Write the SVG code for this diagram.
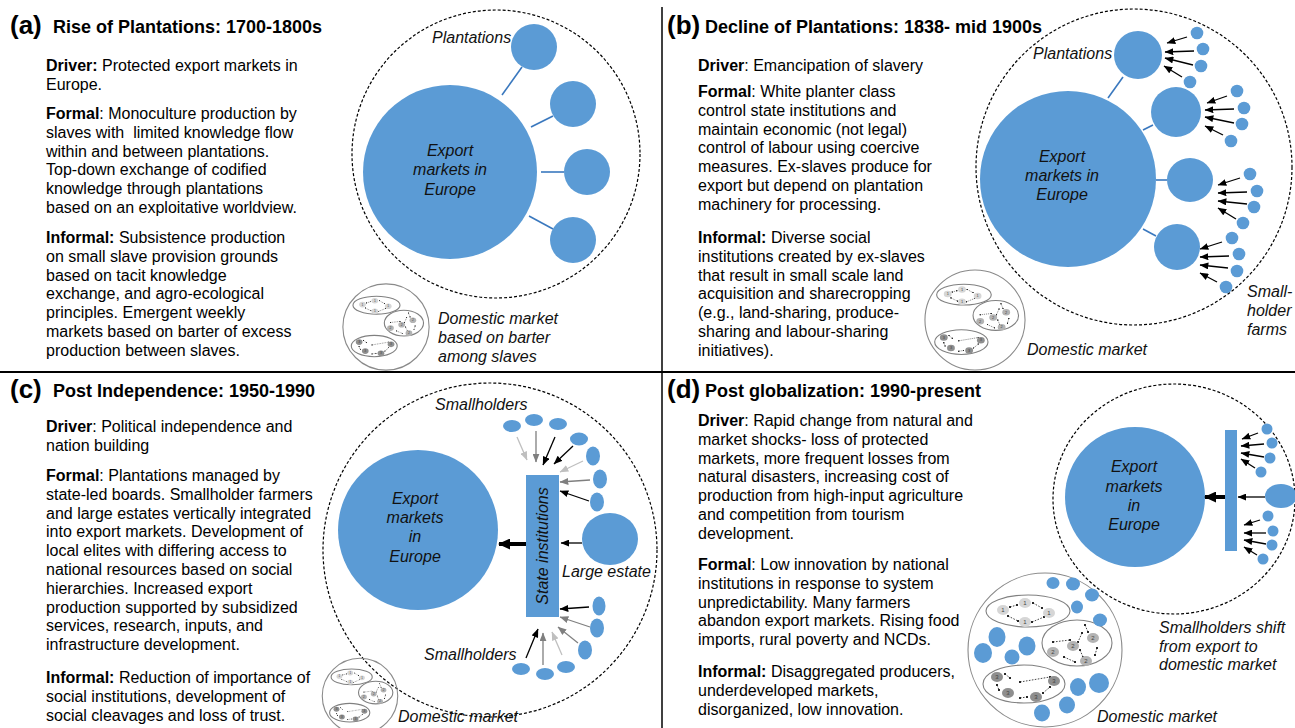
<svg xmlns="http://www.w3.org/2000/svg" xmlns:xlink="http://www.w3.org/1999/xlink" width="1295" height="728" viewBox="0 0 1295 728">
<style>
.body{font-family:"Liberation Sans",Arial,sans-serif;font-size:16px;fill:#000}
.b{font-weight:bold}
.lab{font-family:"Liberation Sans",Arial,sans-serif;font-size:16px;font-style:italic;fill:#111}
.ttl{font-family:"Liberation Sans",Arial,sans-serif;font-size:18px;font-weight:bold;fill:#000}
.pl{font-family:"Liberation Sans",Arial,sans-serif;font-size:26px;font-weight:bold;fill:#000}
.blue{fill:#5B9BD5}
.dash{fill:none;stroke:#000;stroke-width:1.2;stroke-dasharray:3 2}
.lnk{stroke:#3A78BE;stroke-width:1.6}
.ak{stroke:#000;stroke-width:1.3;marker-end:url(#ah)}
.ag{stroke:#7f7f7f;stroke-width:1.3;marker-end:url(#ahg)}
.al{stroke:#bfbfbf;stroke-width:1.3;marker-end:url(#ahl)}
.thick{stroke:#000;stroke-width:4;marker-end:url(#ahb)}
.cl{fill:none;stroke:#808080;stroke-width:1.1;vector-effect:non-scaling-stroke}
.cc{fill:none;stroke:#8a8a8a;stroke-width:1.1;vector-effect:non-scaling-stroke}
.n1{fill:#d6d6d6}.n2{fill:#b3b3b3}.n3{fill:#8f8f8f}
.nt{font-family:"Liberation Sans",Arial,sans-serif;font-size:6px;fill:#444;text-anchor:middle}
.tc{stroke:#333;stroke-width:0.9;stroke-dasharray:1.6 1.4;marker-start:url(#dot);marker-end:url(#dot)}
.div{stroke:#000}
</style>
<defs>
<marker id="ah" viewBox="0 0 10 8" refX="9.5" refY="4" markerWidth="9" markerHeight="7" orient="auto" markerUnits="userSpaceOnUse"><path d="M0,0 L10,4 L0,8 z" fill="#000"/></marker>
<marker id="ahg" viewBox="0 0 10 8" refX="9.5" refY="4" markerWidth="9" markerHeight="7" orient="auto" markerUnits="userSpaceOnUse"><path d="M0,0 L10,4 L0,8 z" fill="#7f7f7f"/></marker>
<marker id="ahl" viewBox="0 0 10 8" refX="9.5" refY="4" markerWidth="9" markerHeight="7" orient="auto" markerUnits="userSpaceOnUse"><path d="M0,0 L10,4 L0,8 z" fill="#bfbfbf"/></marker>
<marker id="ahb" viewBox="0 0 12 11" refX="11" refY="5.5" markerWidth="12" markerHeight="11" orient="auto" markerUnits="userSpaceOnUse"><path d="M0,0 L12,5.5 L0,11 z" fill="#000"/></marker>
<marker id="dot" viewBox="0 0 4 4" refX="2" refY="2" markerWidth="2.4" markerHeight="2.4" markerUnits="userSpaceOnUse"><circle cx="2" cy="2" r="2" fill="#222"/></marker>
<g id="cluster">
<circle r="77" fill="#fff" class="cc"/>
<ellipse cx="-17" cy="-39" rx="42" ry="16" class="cl"/>
<ellipse cx="32" cy="-7" rx="35" ry="23" class="cl"/>
<ellipse cx="-21" cy="34" rx="41" ry="19" class="cl"/>
<line class="tc" x1="-35" y1="-43" x2="-28" y2="-45"/>
<line class="tc" x1="-12" y1="-47" x2="-3" y2="-42"/>
<line class="tc" x1="-37" y1="-34" x2="-27" y2="-29"/>
<line class="tc" x1="-13" y1="-28" x2="-1" y2="-33"/>
<line class="tc" x1="8" y1="-8" x2="25" y2="-10"/>
<line class="tc" x1="40" y1="-25" x2="43" y2="-18"/>
<line class="tc" x1="37" y1="-17" x2="33" y2="-8"/>
<line class="tc" x1="35" y1="0" x2="38" y2="7"/>
<line class="tc" x1="52" y1="-2" x2="50" y2="5"/>
<line class="tc" x1="19" y1="7" x2="30" y2="12"/>
<line class="tc" x1="-40" y1="24" x2="-35" y2="28"/>
<line class="tc" x1="-25" y1="32" x2="5" y2="27"/>
<line class="tc" x1="-48" y1="35" x2="-46" y2="40"/>
<line class="tc" x1="-25" y1="48" x2="-18" y2="47"/>
<line class="tc" x1="-2" y1="43" x2="5" y2="37"/>
<ellipse cx="-42" cy="-40" rx="6" ry="5" class="n1"/><text class="nt" x="-42" y="-38">1</text>
<ellipse cx="-20" cy="-47" rx="6" ry="5" class="n1"/><text class="nt" x="-20" y="-45">1</text>
<ellipse cx="4" cy="-37" rx="6" ry="5" class="n1"/><text class="nt" x="4" y="-35">1</text>
<ellipse cx="-20" cy="-28" rx="6" ry="5" class="n1"/><text class="nt" x="-20" y="-26">1</text>
<ellipse cx="28" cy="-4" rx="6" ry="5" class="n2"/><text class="nt" x="28" y="-2">2</text>
<ellipse cx="48" cy="-12" rx="6" ry="5" class="n2"/><text class="nt" x="48" y="-10">2</text>
<ellipse cx="8" cy="2" rx="6" ry="5" class="n2"/><text class="nt" x="8" y="4">2</text>
<ellipse cx="41" cy="11" rx="6" ry="5" class="n2"/><text class="nt" x="41" y="13">2</text>
<ellipse cx="-48" cy="27" rx="6" ry="5" class="n3"/><text class="nt" x="-48" y="29">3</text>
<ellipse cx="9" cy="31" rx="6" ry="5" class="n3"/><text class="nt" x="9" y="33">3</text>
<ellipse cx="-37" cy="43" rx="6" ry="5" class="n3"/><text class="nt" x="-37" y="45">3</text>
<ellipse cx="-9" cy="47" rx="6" ry="5" class="n3"/><text class="nt" x="-9" y="49">3</text>
</g>
</defs>
<rect width="1295" height="728" fill="#fff"/>

<g id="dividers">
<line class="div" x1="0" y1="372" x2="1295" y2="372" stroke-width="2"/>
<line class="div" x1="662" y1="7" x2="662" y2="728" stroke-width="1.5"/>
</g>

<!-- Panel (a) -->
<g id="panel-a-text">
<text class="pl" x="10" y="34">(a)</text>
<text class="ttl" x="53" y="33">Rise of Plantations: 1700-1800s</text>
<text class="body">
<tspan x="46" y="71"><tspan class="b">Driver:</tspan> Protected export markets in</tspan>
<tspan x="46" y="89.8">Europe.</tspan>
<tspan x="46" y="119"><tspan class="b">Formal</tspan>: Monoculture production by</tspan>
<tspan x="46" y="137.8">slaves with&#160; limited knowledge flow</tspan>
<tspan x="46" y="156.6">within and between plantations.</tspan>
<tspan x="46" y="175.4">Top-down exchange of codified</tspan>
<tspan x="46" y="194.2">knowledge through plantations</tspan>
<tspan x="46" y="213">based on an exploitative worldview.</tspan>
<tspan x="46" y="243"><tspan class="b">Informal:</tspan> Subsistence production</tspan>
<tspan x="46" y="261.8">on small slave provision grounds</tspan>
<tspan x="46" y="280.6">based on tacit knowledge</tspan>
<tspan x="46" y="299.4">exchange, and agro-ecological</tspan>
<tspan x="46" y="318.2">principles. Emergent weekly</tspan>
<tspan x="46" y="337">markets based on barter of excess</tspan>
<tspan x="46" y="355.8">production between slaves.</tspan>
</text>
</g>
<g id="a-boundary"><circle class="dash" cx="496" cy="154" r="144"/></g>
<g id="a-export"><circle class="blue" cx="450" cy="172" r="87"/>
<text class="lab" text-anchor="middle"><tspan x="450" y="156">Export</tspan><tspan x="450" y="175">markets in</tspan><tspan x="450" y="195">Europe</tspan></text></g>
<g id="a-plantation-1"><circle class="blue" cx="534" cy="47" r="23"/></g>
<g id="a-plantation-2"><circle class="blue" cx="573" cy="104" r="23"/></g>
<g id="a-plantation-3"><circle class="blue" cx="587" cy="172" r="23"/></g>
<g id="a-plantation-4"><circle class="blue" cx="573" cy="240" r="23"/></g>
<g id="a-plantations-label"><text class="lab" x="432" y="43">Plantations</text></g>
<g id="a-domestic"><use xlink:href="#cluster" href="#cluster" transform="translate(386,327) scale(0.56)"/>
<text class="lab"><tspan x="438" y="324">Domestic market</tspan><tspan x="438" y="343">based on barter</tspan><tspan x="438" y="362">among slaves</tspan></text></g>

<!-- Panel (b) -->
<g id="panel-b-text">
<text class="pl" x="667" y="34">(b)</text>
<text class="ttl" x="705" y="33">Decline of Plantations: 1838- mid 1900s</text>
<text class="body">
<tspan x="698" y="71"><tspan class="b">Driver</tspan>: Emancipation of slavery</tspan>
<tspan x="698" y="97"><tspan class="b">Formal</tspan>: White planter class</tspan>
<tspan x="698" y="115.8">control state institutions and</tspan>
<tspan x="698" y="134.6">maintain economic (not legal)</tspan>
<tspan x="698" y="153.4">control of labour using coercive</tspan>
<tspan x="698" y="172.2">measures. Ex-slaves produce for</tspan>
<tspan x="698" y="191">export but depend on plantation</tspan>
<tspan x="698" y="209.8">machinery for processing.</tspan>
<tspan x="698" y="243"><tspan class="b">Informal:</tspan> Diverse social</tspan>
<tspan x="698" y="261.8">institutions created by ex-slaves</tspan>
<tspan x="698" y="280.6">that result in small scale land</tspan>
<tspan x="698" y="299.4">acquisition and sharecropping</tspan>
<tspan x="698" y="318.2">(e.g., land-sharing, produce-</tspan>
<tspan x="698" y="337">sharing and labour-sharing</tspan>
<tspan x="698" y="355.8">initiatives).</tspan>
</text>
</g>
<g id="b-boundary"><circle class="dash" cx="1134" cy="167" r="158"/></g>
<g id="b-export"><circle class="blue" cx="1068" cy="179" r="88"/>
<text class="lab" text-anchor="middle"><tspan x="1062" y="162">Export</tspan><tspan x="1062" y="181">markets in</tspan><tspan x="1062" y="200">Europe</tspan></text></g>
<g id="b-plantation-1"><circle class="blue" cx="1138" cy="55" r="24"/></g>
<g id="b-plantation-2"><circle class="blue" cx="1176" cy="112" r="25"/></g>
<g id="b-plantation-3"><ellipse class="blue" cx="1190" cy="180" rx="23" ry="22"/></g>
<g id="b-plantation-4"><circle class="blue" cx="1177" cy="247" r="23"/></g>
<g id="b-plantations-label"><text class="lab" x="1033" y="59">Plantations</text></g>
<g id="b-smallholders">
<circle class="blue" cx="1197" cy="33" r="6.3"/><circle class="blue" cx="1203" cy="49" r="6.3"/><circle class="blue" cx="1201" cy="66" r="6.3"/><circle class="blue" cx="1190" cy="82" r="6.3"/>
<circle class="blue" cx="1237" cy="91" r="6.3"/><circle class="blue" cx="1244" cy="108" r="6.3"/><circle class="blue" cx="1242" cy="124" r="6.3"/><circle class="blue" cx="1231" cy="141" r="6.3"/>
<circle class="blue" cx="1250" cy="174" r="6.3"/><circle class="blue" cx="1257" cy="191" r="6.3"/><circle class="blue" cx="1254" cy="207" r="6.3"/><circle class="blue" cx="1243" cy="223" r="6.3"/>
<circle class="blue" cx="1232" cy="238" r="6.3"/><circle class="blue" cx="1239" cy="254" r="6.3"/><circle class="blue" cx="1237" cy="271" r="6.3"/><circle class="blue" cx="1226" cy="287" r="6.3"/>
<text class="lab"><tspan x="1247" y="297">Small-</tspan><tspan x="1247" y="316">holder</tspan><tspan x="1247" y="335">farms</tspan></text>
</g>
<g id="b-domestic"><use xlink:href="#cluster" href="#cluster" transform="translate(975,320) scale(0.65)"/>
<text class="lab" x="1027" y="355">Domestic market</text></g>

<!-- Panel (c) -->
<g id="panel-c-text">
<text class="pl" x="10" y="398">(c)</text>
<text class="ttl" x="53" y="397">Post Independence: 1950-1990</text>
<text class="body">
<tspan x="46" y="432"><tspan class="b">Driver</tspan>: Political independence and</tspan>
<tspan x="46" y="450.8">nation building</tspan>
<tspan x="46" y="481"><tspan class="b">Formal</tspan>: Plantations managed by</tspan>
<tspan x="46" y="499.8">state-led boards. Smallholder farmers</tspan>
<tspan x="46" y="518.6">and large estates vertically integrated</tspan>
<tspan x="46" y="537.4">into export markets. Development of</tspan>
<tspan x="46" y="556.2">local elites with differing access to</tspan>
<tspan x="46" y="575">national resources based on social</tspan>
<tspan x="46" y="593.8">hierarchies. Increased export</tspan>
<tspan x="46" y="612.6">production supported by subsidized</tspan>
<tspan x="46" y="631.4">services, research, inputs, and</tspan>
<tspan x="46" y="650.2">infrastructure development.</tspan>
<tspan x="46" y="683"><tspan class="b">Informal:</tspan> Reduction of importance of</tspan>
<tspan x="46" y="701.8">social institutions, development of</tspan>
<tspan x="46" y="720.6">social cleavages and loss of trust.</tspan>
</text>
</g>
<g id="c-boundary"><circle class="dash" cx="490" cy="550" r="167"/></g>
<g id="c-export"><circle class="blue" cx="418" cy="530" r="80"/>
<text class="lab" text-anchor="middle"><tspan x="415" y="504">Export</tspan><tspan x="415" y="523">markets</tspan><tspan x="415" y="542">in</tspan><tspan x="415" y="562">Europe</tspan></text></g>
<g id="c-state"><rect class="blue" x="526" y="475" width="33" height="142"/>
<text class="lab" text-anchor="middle" transform="translate(548,546) rotate(-90)" x="0" y="0">State institutions</text></g>
<g id="c-large-estate"><ellipse class="blue" cx="610" cy="539" rx="28" ry="26"/>
<text class="lab" x="562" y="577">Large estate</text></g>
<g id="c-smallholders-top">
<ellipse class="blue" cx="512" cy="426" rx="9" ry="6"/><ellipse class="blue" cx="534" cy="420" rx="9" ry="6"/><ellipse class="blue" cx="558" cy="424" rx="9" ry="6"/><ellipse class="blue" cx="579" cy="439" rx="9" ry="6.5"/>
<ellipse class="blue" cx="593" cy="456" rx="7" ry="9.5"/><ellipse class="blue" cx="600" cy="479" rx="7" ry="9.5"/><ellipse class="blue" cx="597" cy="502" rx="7" ry="9.5"/>
<text class="lab" x="435" y="410">Smallholders</text>
</g>
<g id="c-smallholders-bottom">
<ellipse class="blue" cx="599" cy="606" rx="6.5" ry="9.5"/><ellipse class="blue" cx="597" cy="628" rx="7" ry="9.5"/><ellipse class="blue" cx="585" cy="650" rx="7" ry="9.5"/>
<ellipse class="blue" cx="566" cy="667" rx="9" ry="6"/><ellipse class="blue" cx="545" cy="674" rx="9" ry="6"/><ellipse class="blue" cx="521" cy="669" rx="9" ry="6"/>
<text class="lab" x="424" y="660">Smallholders</text>
</g>
<g id="c-domestic"><use xlink:href="#cluster" href="#cluster" transform="translate(360,696) scale(0.49)"/>
<text class="lab" x="398" y="722">Domestic market</text></g>

<!-- Panel (d) -->
<g id="panel-d-text">
<text class="pl" x="667" y="398">(d)</text>
<text class="ttl" x="705" y="397">Post globalization: 1990-present</text>
<text class="body">
<tspan x="698" y="426"><tspan class="b">Driver</tspan>: Rapid change from natural and</tspan>
<tspan x="698" y="444.8">market shocks- loss of protected</tspan>
<tspan x="698" y="463.6">markets, more frequent losses from</tspan>
<tspan x="698" y="482.4">natural disasters, increasing cost of</tspan>
<tspan x="698" y="501.2">production from high-input agriculture</tspan>
<tspan x="698" y="520">and competition from tourism</tspan>
<tspan x="698" y="538.8">development.</tspan>
<tspan x="698" y="570"><tspan class="b">Formal</tspan>: Low innovation by national</tspan>
<tspan x="698" y="588.8">institutions in response to system</tspan>
<tspan x="698" y="607.6">unpredictability. Many farmers</tspan>
<tspan x="698" y="626.4">abandon export markets. Rising food</tspan>
<tspan x="698" y="645.2">imports, rural poverty and NCDs.</tspan>
<tspan x="698" y="677"><tspan class="b">Informal:</tspan> Disaggregated producers,</tspan>
<tspan x="698" y="695.8">underdeveloped markets,</tspan>
<tspan x="698" y="714.6">disorganized, low innovation.</tspan>
</text>
</g>
<g id="d-boundary"><ellipse class="dash" cx="1174" cy="499" rx="121" ry="115"/></g>
<g id="d-export"><circle class="blue" cx="1135" cy="497" r="70"/>
<text class="lab" text-anchor="middle"><tspan x="1134" y="472">Export</tspan><tspan x="1134" y="492">markets</tspan><tspan x="1134" y="511">in</tspan><tspan x="1134" y="530">Europe</tspan></text></g>
<g id="d-state"><rect class="blue" x="1225" y="430" width="12" height="121"/></g>
<g id="d-smallholders">
<circle class="blue" cx="1267" cy="429" r="5.5"/><circle class="blue" cx="1272" cy="443" r="5.5"/><circle class="blue" cx="1270" cy="458" r="5.5"/><circle class="blue" cx="1261" cy="472" r="5.5"/>
<ellipse class="blue" cx="1281" cy="496" rx="16" ry="12"/>
<circle class="blue" cx="1268" cy="516" r="5.5"/><circle class="blue" cx="1273" cy="531" r="5.5"/><circle class="blue" cx="1272" cy="545" r="5.5"/><circle class="blue" cx="1263" cy="559" r="5.5"/>
<text class="lab"><tspan x="1159" y="633">Smallholders shift</tspan><tspan x="1159" y="652">from export to</tspan><tspan x="1159" y="670">domestic market</tspan></text>
</g>
<g id="d-domestic"><use xlink:href="#cluster" href="#cluster" transform="translate(1045,650)"/>
<g class="blue">
<ellipse cx="1053" cy="583" rx="6.5" ry="6"/><ellipse cx="1073" cy="584" rx="7" ry="6.5"/><ellipse cx="1092" cy="595" rx="7" ry="6.5"/><ellipse cx="1077" cy="607" rx="6" ry="6.5"/><ellipse cx="1100" cy="620" rx="7" ry="6.5"/>
<ellipse cx="997" cy="637" rx="8.5" ry="10"/><ellipse cx="1027" cy="646" rx="8.5" ry="9.5"/><ellipse cx="1012" cy="657" rx="7.5" ry="7.5"/><ellipse cx="983" cy="653" rx="9" ry="10"/>
<ellipse cx="1078" cy="687" rx="8" ry="9"/><ellipse cx="1099" cy="683" rx="10" ry="10"/><ellipse cx="1067" cy="705" rx="8" ry="8.5"/><ellipse cx="1042" cy="713" rx="8" ry="8.5"/>
</g>
<text class="lab" x="1097" y="722">Domestic market</text></g>

<g id="connectors">
<line class="lnk" x1="502" y1="95" x2="522" y2="67"/>
<line class="lnk" x1="531" y1="127" x2="553" y2="116"/>
<line class="lnk" x1="541" y1="172" x2="564" y2="172"/>
<line class="lnk" x1="529" y1="216" x2="553" y2="229"/>
<line class="lnk" x1="1108" y1="98" x2="1123" y2="77"/>
<line class="lnk" x1="1143" y1="130" x2="1153" y2="125"/>
<line class="lnk" x1="1156" y1="180" x2="1167" y2="180"/>
<line class="lnk" x1="1143" y1="229" x2="1156" y2="236"/>
<line class="ak" x1="1187" y1="37" x2="1167" y2="43"/><line class="ak" x1="1194" y1="51" x2="1165" y2="52"/><line class="ak" x1="1193" y1="65" x2="1165" y2="58"/><line class="ak" x1="1182" y1="77" x2="1164" y2="66"/>
<line class="ak" x1="1227" y1="96" x2="1207" y2="103"/><line class="ak" x1="1234" y1="109" x2="1205" y2="110"/><line class="ak" x1="1234" y1="123" x2="1205" y2="117"/><line class="ak" x1="1223" y1="135" x2="1205" y2="126"/>
<line class="ak" x1="1240" y1="178" x2="1218" y2="185"/><line class="ak" x1="1247" y1="192" x2="1218" y2="193"/><line class="ak" x1="1247" y1="204" x2="1218" y2="201"/><line class="ak" x1="1236" y1="219" x2="1218" y2="208"/>
<line class="ak" x1="1222" y1="242" x2="1200" y2="249"/><line class="ak" x1="1229" y1="256" x2="1200" y2="257"/><line class="ak" x1="1228" y1="268" x2="1200" y2="265"/><line class="ak" x1="1217" y1="282" x2="1200" y2="273"/>
<line class="thick" x1="526" y1="544" x2="499" y2="544"/>
<line class="al" x1="517" y1="437" x2="527" y2="460"/>
<line class="ag" x1="536" y1="431" x2="536" y2="462"/>
<line class="ak" x1="555" y1="437" x2="543" y2="465"/>
<line class="ak" x1="573" y1="446" x2="554" y2="464"/>
<line class="al" x1="583" y1="461" x2="560" y2="472"/>
<line class="ag" x1="590" y1="480" x2="560" y2="482"/>
<line class="ak" x1="589" y1="501" x2="560" y2="491"/>
<line class="ak" x1="582" y1="543" x2="561" y2="543"/>
<line class="ak" x1="589" y1="607" x2="560" y2="609"/>
<line class="ag" x1="590" y1="627" x2="560" y2="617"/>
<line class="ag" x1="578" y1="643" x2="558" y2="627"/>
<line class="al" x1="562" y1="655" x2="552" y2="632"/>
<line class="ag" x1="543" y1="665" x2="543" y2="633"/>
<line class="ak" x1="526" y1="658" x2="538" y2="629"/>
<line class="thick" x1="1225" y1="497" x2="1205" y2="497"/>
<line class="ak" x1="1265" y1="497" x2="1238" y2="497"/>
<line class="ak" x1="1258" y1="433" x2="1242" y2="439"/><line class="ak" x1="1264" y1="444" x2="1241" y2="446"/><line class="ak" x1="1264" y1="457" x2="1241" y2="453"/><line class="ak" x1="1255" y1="468" x2="1241" y2="459"/>
<line class="ak" x1="1260" y1="520" x2="1244" y2="525"/><line class="ak" x1="1266" y1="533" x2="1244" y2="533"/><line class="ak" x1="1266" y1="544" x2="1244" y2="540"/><line class="ak" x1="1257" y1="555" x2="1244" y2="547"/>
</g>
</svg>
